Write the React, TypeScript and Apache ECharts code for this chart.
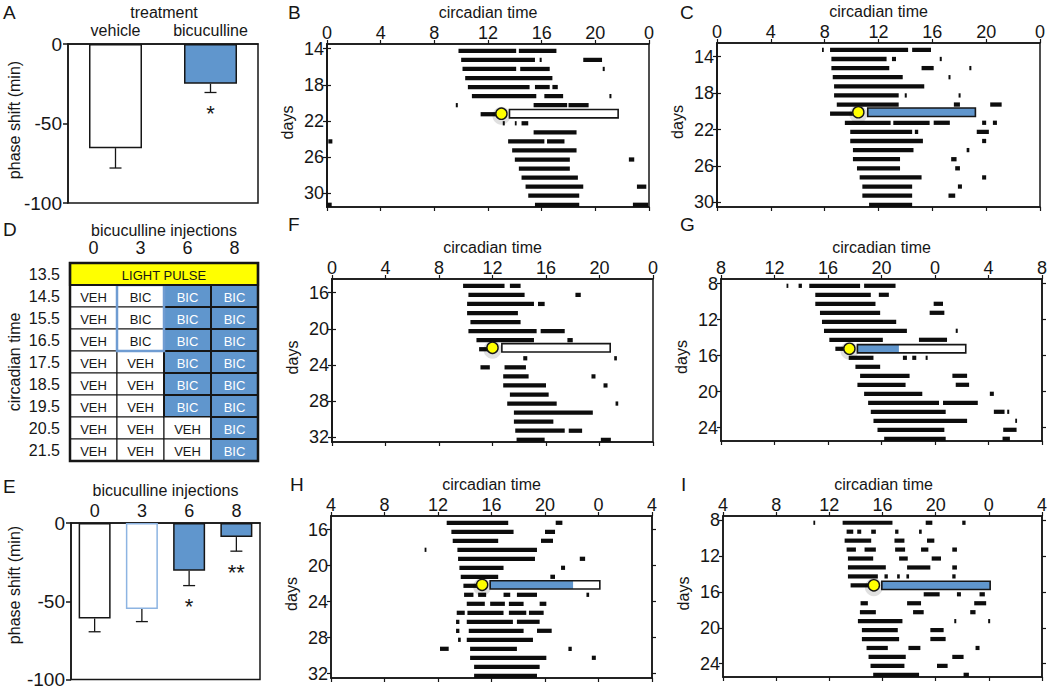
import React, { useEffect, useRef } from "react";
import * as echarts from "echarts";

const FONT = '"Liberation Sans", Arial, Helvetica, sans-serif';
const INK = "#161616";
const BLUE = "#6096CD";
const LIGHT_BLUE = "#8DB4E2";
const YELLOW = "#FFFF00";

// ---------- Panel A : phase shift by treatment ----------
const treatmentCats = ["vehicle", "bicuculline"];
const shiftA = [-65.5, -25];
const semA = [12.5, 5.5];
const sigA = ["", "*"];
const fillA = ["#ffffff", BLUE];
const edgeA = [INK, INK];

// ---------- Panel E : phase shift by number of injections ----------
const injectionCats = ["0", "3", "6", "8"];
const shiftE = [-61, -55, -30.5, -9];
const semE = [8.5, 8, 9.5, 9];
const sigE = ["", "", "*", "**"];
const fillE = ["#ffffff", "#ffffff", BLUE, BLUE];
const edgeE = [INK, LIGHT_BLUE, INK, INK];

// ---------- Panel D : injection table ----------
const tableCols = ["0", "3", "6", "8"];
const tableRowLabels = ["13.5", "14.5", "15.5", "16.5", "17.5", "18.5", "19.5", "20.5", "21.5"];
const pulseLabel = "LIGHT PULSE";
const inj0 = ["VEH", "VEH", "VEH", "VEH", "VEH", "VEH", "VEH", "VEH"];
const inj3 = ["BIC", "BIC", "BIC", "VEH", "VEH", "VEH", "VEH", "VEH"];
const inj6 = ["BIC", "BIC", "BIC", "BIC", "BIC", "BIC", "VEH", "VEH"];
const inj8 = ["BIC", "BIC", "BIC", "BIC", "BIC", "BIC", "BIC", "BIC"];
const tableColumns = [inj0, inj3, inj6, inj8];
const columnBicFilled = [false, false, true, true];

// ---------- Actograms: [day, onset CT, offset CT] ----------
type Seg = [number, number, number];
const actoB: Seg[] = [
  [14, 9.8, 14.1], [14, 14.3, 17.1],
  [15, 10.0, 15.5], [15, 15.85, 16.0], [15, 19.1, 20.5],
  [16, 10.1, 14.1], [16, 14.4, 16.6], [16, 20.55, 20.7],
  [17, 10.3, 16.8],
  [18, 10.5, 15.1], [18, 15.5, 16.6], [18, 16.8, 17.2],
  [19, 10.8, 15.6], [19, 16.2, 17.6], [19, 21.05, 21.2],
  [20, 9.6, 9.75], [20, 15.4, 17.9], [20, 18.0, 19.5],
  [21, 11.45, 12.9],
  [22, 13.1, 13.25], [22, 14.0, 14.1], [22, 14.5, 15.0],
  [23, 15.4, 18.6],
  [24, 0.1, 0.4], [24, 13.5, 16.2], [24, 16.4, 17.7],
  [25, 13.8, 18.6],
  [26, 14.0, 18.1], [26, 22.5, 22.9],
  [27, 14.3, 18.1],
  [28, 14.5, 18.7],
  [29, 14.8, 19.1], [29, 23.1, 23.8],
  [30, 15.0, 18.8],
  [31, 0.0, 0.35], [31, 15.5, 18.8], [31, 22.8, 23.95],
];
const actoC: Seg[] = [
  [13, 7.8, 7.9], [13, 8.4, 14.2], [13, 14.5, 15.9],
  [14, 8.5, 12.6], [14, 13.0, 13.3], [14, 16.55, 16.7],
  [15, 8.5, 12.8], [15, 15.2, 16.1], [15, 18.75, 18.9],
  [16, 8.6, 13.8], [16, 17.2, 17.35],
  [17, 8.7, 15.4],
  [18, 8.7, 13.5], [18, 13.95, 14.1], [18, 17.95, 18.1],
  [19, 8.9, 13.5], [19, 17.6, 18.05], [19, 20.3, 21.15],
  [20, 8.4, 10.1],
  [21, 9.5, 12.9], [21, 13.1, 15.8], [21, 16.1, 17.3], [21, 19.7, 20.0], [21, 20.5, 20.8],
  [22, 9.9, 14.5], [22, 14.7, 14.95], [22, 19.3, 20.2],
  [23, 9.9, 15.3], [23, 19.7, 20.0],
  [24, 10.1, 14.6], [24, 18.55, 18.75],
  [25, 10.1, 13.6], [25, 17.4, 17.8],
  [26, 10.4, 13.6], [26, 17.7, 18.05],
  [27, 10.6, 15.2], [27, 19.7, 20.0],
  [28, 10.8, 14.5], [28, 17.9, 18.2],
  [29, 10.8, 14.5], [29, 17.2, 17.7],
  [30, 11.3, 14.5],
];
const actoF: Seg[] = [
  [15, 9.8, 12.9], [15, 13.3, 14.1],
  [16, 10.2, 14.4], [16, 18.2, 18.6],
  [17, 10.1, 15.1], [17, 15.4, 15.9],
  [18, 10.1, 13.9],
  [19, 10.35, 14.1],
  [20, 10.2, 15.3], [20, 15.6, 17.4],
  [21, 10.8, 15.1], [21, 17.6, 18.0],
  [22, 11.0, 11.8],
  [23, 14.3, 14.6], [23, 21.1, 21.3],
  [24, 11.1, 11.8], [24, 12.9, 14.5],
  [25, 12.8, 14.7], [25, 19.4, 19.7],
  [26, 12.8, 16.0], [26, 20.3, 20.6],
  [27, 13.3, 16.2],
  [28, 13.1, 16.8], [28, 21.2, 21.4],
  [29, 13.6, 19.5],
  [30, 13.6, 16.55],
  [31, 13.7, 17.4], [31, 17.7, 18.7],
  [32, 13.8, 15.9], [32, 20.1, 20.85],
];
const actoG: Seg[] = [
  [8, 12.9, 13.0], [8, 13.8, 14.05], [8, 14.6, 18.4], [8, 18.7, 21.05],
  [9, 15.05, 19.2], [9, 19.8, 20.55],
  [10, 15.05, 19.55], [10, 23.9, 24.6],
  [11, 15.4, 19.9], [11, 23.6, 24.7],
  [12, 15.55, 21.1],
  [13, 15.7, 21.9], [13, 25.55, 25.7],
  [14, 16.1, 20.1], [14, 22.8, 24.9],
  [15, 16.55, 17.2],
  [16, 17.55, 19.4], [16, 21.6, 21.9], [16, 22.3, 22.6], [16, 23.3, 23.45],
  [17, 18.05, 19.9],
  [18, 18.4, 22.1], [18, 25.3, 26.4],
  [19, 18.2, 21.8], [19, 25.55, 26.55],
  [20, 18.7, 23.05], [20, 28.1, 28.4],
  [21, 19.0, 24.3], [21, 24.6, 27.2],
  [22, 19.2, 24.8], [22, 28.4, 29.2], [22, 29.4, 29.55],
  [23, 19.4, 26.4], [23, 30.0, 30.1],
  [24, 19.7, 24.7], [24, 29.1, 30.1],
  [25, 20.2, 24.8], [25, 29.05, 29.6],
];
const actoH: Seg[] = [
  [15, 12.65, 17.25], [15, 20.8, 21.3],
  [16, 13.0, 17.65], [16, 20.0, 20.75],
  [17, 13.1, 16.5], [17, 19.7, 20.6],
  [18, 11.0, 11.1], [18, 13.45, 19.4],
  [19, 13.5, 19.25], [19, 22.6, 23.0],
  [20, 13.6, 16.9], [20, 21.2, 21.5],
  [21, 13.7, 16.5], [21, 20.4, 20.75],
  [22, 13.9, 15.0],
  [23, 13.95, 14.65], [23, 15.0, 15.6], [23, 16.9, 17.4], [23, 17.9, 19.4], [23, 23.1, 23.3],
  [24, 14.15, 15.5], [24, 15.9, 17.0], [24, 17.3, 18.4], [24, 19.6, 20.1],
  [25, 13.4, 14.0], [25, 14.2, 16.9], [25, 17.3, 18.6], [25, 18.8, 19.9],
  [26, 13.35, 13.6], [26, 14.15, 17.6], [26, 17.9, 19.6],
  [27, 13.35, 13.6], [27, 14.3, 18.4], [27, 19.4, 20.5],
  [28, 13.5, 13.7], [28, 14.15, 19.1],
  [29, 12.15, 12.8], [29, 14.4, 17.9], [29, 21.75, 22.0],
  [30, 14.4, 20.1], [30, 23.5, 23.8],
  [31, 14.7, 19.6],
  [32, 14.7, 19.4],
];
const actoI: Seg[] = [
  [8, 10.8, 10.9], [8, 13.0, 16.75], [8, 19.25, 19.75], [8, 22.0, 22.25],
  [9, 13.3, 13.8], [9, 14.1, 14.4], [9, 15.15, 15.5], [9, 16.95, 17.2], [9, 18.75, 18.95],
  [10, 13.15, 15.15], [10, 16.9, 17.65], [10, 19.35, 19.9],
  [11, 13.3, 14.0], [11, 14.65, 15.5], [11, 16.95, 17.7], [11, 18.9, 19.45], [11, 21.25, 21.6],
  [12, 13.4, 15.3], [12, 17.25, 17.9], [12, 19.7, 20.4],
  [13, 13.4, 16.25], [13, 17.85, 19.6], [13, 21.25, 21.6],
  [14, 13.4, 15.65], [14, 16.15, 16.4], [14, 17.1, 17.3], [14, 17.8, 18.0], [14, 21.25, 21.5],
  [15, 13.6, 15.0],
  [16, 19.1, 20.3], [16, 21.6, 21.9], [16, 23.3, 23.7],
  [17, 14.35, 14.9], [17, 17.85, 18.9], [17, 22.9, 23.8],
  [18, 14.3, 15.5], [18, 18.3, 19.1], [18, 22.6, 23.0],
  [19, 14.15, 17.5], [19, 21.4, 21.55], [19, 23.95, 24.1],
  [20, 14.45, 17.15], [20, 19.6, 20.6],
  [21, 14.45, 17.25], [21, 19.6, 20.75],
  [22, 14.8, 16.4], [22, 17.95, 18.85], [22, 23.0, 23.3],
  [23, 14.95, 17.75], [23, 21.25, 22.1],
  [24, 15.1, 17.65], [24, 20.1, 20.9],
  [25, 15.3, 18.75], [25, 22.1, 22.5],
];

// light pulse: [pulse CT, day, treatment start CT, treatment end CT, bicuculline end CT]
const pulseB = [13.0, 21.2, 13.6, 21.7, 13.6];
const pulseC = [10.5, 20.1, 11.2, 19.2, 19.2];
const pulseF = [12.0, 22.1, 12.7, 20.8, 12.7];
const pulseG = [17.6, 15.25, 18.2, 26.3, 21.3];
const pulseH = [15.3, 22.15, 15.9, 24.1, 22.1];
const pulseI = [15.35, 15.25, 15.95, 24.1, 24.1];

// day tick labels
const dayTicksB = [14, 18, 22, 26, 30];
const dayTicksC = [14, 18, 22, 26, 30];
const dayTicksF = [16, 20, 24, 28, 32];
const dayTicksG = [8, 12, 16, 20, 24];
const dayTicksH = [16, 20, 24, 28, 32];
const dayTicksI = [8, 12, 16, 20, 24];

type Panel = {
  letter: string;
  grid: { left: number; top: number; width: number; height: number };
  ctMin: number;
  dayMin: number;
  dayMax: number;
  ticks: number[];
  segs: Seg[];
  pulse: number[];
  letterPos: [number, number];
};

const panels: Panel[] = [
  { letter: "B", grid: { left: 327, top: 44, width: 322, height: 163 }, ctMin: 0, dayMin: 13.5, dayMax: 31.5, ticks: dayTicksB, segs: actoB, pulse: pulseB, letterPos: [288, 12] },
  { letter: "C", grid: { left: 717, top: 43, width: 323, height: 164 }, ctMin: 0, dayMin: 12.5, dayMax: 30.5, ticks: dayTicksC, segs: actoC, pulse: pulseC, letterPos: [680, 12] },
  { letter: "F", grid: { left: 332, top: 279, width: 321, height: 163 }, ctMin: 0, dayMin: 14.5, dayMax: 32.5, ticks: dayTicksF, segs: actoF, pulse: pulseF, letterPos: [288, 224] },
  { letter: "G", grid: { left: 721, top: 279, width: 321, height: 162 }, ctMin: 8, dayMin: 7.5, dayMax: 25.5, ticks: dayTicksG, segs: actoG, pulse: pulseG, letterPos: [680, 224] },
  { letter: "H", grid: { left: 331, top: 516, width: 321, height: 162 }, ctMin: 4, dayMin: 14.5, dayMax: 32.5, ticks: dayTicksH, segs: actoH, pulse: pulseH, letterPos: [290, 484] },
  { letter: "I", grid: { left: 723, top: 516, width: 321, height: 161 }, ctMin: 4, dayMin: 7.5, dayMax: 25.5, ticks: dayTicksI, segs: actoI, pulse: pulseI, letterPos: [681, 484] },
];

const txt = (text: string, x: number, y: number, size: number, extra: any = {}) => ({
  type: "text",
  x,
  y,
  silent: true,
  ...extra,
  style: {
    text,
    fill: INK,
    font: `${size}px ${FONT}`,
    textAlign: extra.align || "center",
    textVerticalAlign: "middle",
  },
});

function buildOption() {
  const grid: any[] = [];
  const xAxis: any[] = [];
  const yAxis: any[] = [];
  const series: any[] = [];
  const graphic: any[] = [];

  const lineStyle = { color: INK, width: 1.5 };

  // ---------- A ----------
  const gA = { left: 68, top: 44, width: 190, height: 159 };
  grid.push({ ...gA, show: true, borderColor: INK, borderWidth: 1.5, backgroundColor: "transparent" });
  xAxis.push({
    type: "category", gridIndex: 0, position: "top", data: treatmentCats,
    axisLine: { show: true, lineStyle }, axisTick: { show: false },
    axisLabel: { interval: 0, fontSize: 16, color: INK, fontFamily: FONT, margin: 6 },
  });
  yAxis.push({
    type: "value", gridIndex: 0, min: -100, max: 0, interval: 50,
    splitLine: { show: false }, axisLine: { show: true, lineStyle },
    axisTick: { show: true, length: 5, lineStyle },
    axisLabel: { fontSize: 19, color: INK, fontFamily: FONT, margin: 6 },
  });

  // ---------- D ----------
  const gD = { left: 70, top: 263, width: 188, height: 198 };
  grid.push({ ...gD, show: false });
  xAxis.push({
    type: "category", gridIndex: 1, position: "top", data: tableCols,
    axisLine: { show: false }, axisTick: { show: false },
    axisLabel: { interval: 0, fontSize: 18, color: INK, fontFamily: FONT, margin: 6 },
  });
  yAxis.push({
    type: "category", gridIndex: 1, inverse: true, data: tableRowLabels,
    axisLine: { show: false }, axisTick: { show: false },
    axisLabel: { interval: 0, fontSize: 16, color: INK, fontFamily: FONT, margin: 10 },
  });

  // ---------- E ----------
  const gE = { left: 71, top: 523, width: 189, height: 157 };
  grid.push({ ...gE, show: true, borderColor: INK, borderWidth: 1.5, backgroundColor: "transparent" });
  xAxis.push({
    type: "category", gridIndex: 2, position: "top", data: injectionCats,
    axisLine: { show: true, lineStyle }, axisTick: { show: false },
    axisLabel: { interval: 0, fontSize: 18, color: INK, fontFamily: FONT, margin: 3 },
  });
  yAxis.push({
    type: "value", gridIndex: 2, min: -100, max: 0, interval: 50,
    splitLine: { show: false }, axisLine: { show: true, lineStyle },
    axisTick: { show: true, length: 5, lineStyle },
    axisLabel: { fontSize: 19, color: INK, fontFamily: FONT, margin: 6 },
  });

  // bar + error series for A and E
  const barPanel = (gi: number, vals: number[], sem: number[], sig: string[], fills: string[], edges: string[], barWidth: number) => {
    series.push({
      type: "bar", xAxisIndex: gi, yAxisIndex: gi, barWidth, silent: true,
      data: vals.map((v, i) => ({
        value: v,
        itemStyle: { color: fills[i], borderColor: edges[i], borderWidth: 1.5 },
      })),
    });
    series.push({
      type: "custom", xAxisIndex: gi, yAxisIndex: gi, silent: true, z: 5,
      data: vals.map((v, i) => [i, v, v - sem[i]]),
      encode: { x: 0, y: [1, 2] },
      renderItem: (params: any, api: any) => {
        const i = api.value(0);
        const a = api.coord([i, api.value(1)]);
        const b = api.coord([i, api.value(2)]);
        const s = sig[params.dataIndex];
        const children: any[] = [
          { type: "line", shape: { x1: a[0], y1: a[1], x2: b[0], y2: b[1] }, style: { stroke: INK, lineWidth: 1.3 } },
          { type: "line", shape: { x1: b[0] - 6, y1: b[1], x2: b[0] + 6, y2: b[1] }, style: { stroke: INK, lineWidth: 1.3 } },
        ];
        if (s) {
          children.push({
            type: "text", x: b[0], y: b[1] + 10,
            style: { text: s, fill: INK, font: `22px ${FONT}`, textAlign: "center", textVerticalAlign: "top" },
          });
        }
        return { type: "group", children };
      },
    });
  };
  barPanel(0, shiftA, semA, sigA, fillA, edgeA, 53);
  barPanel(2, shiftE, semE, sigE, fillE, edgeE, 32);

  // table cells
  const cellData: number[][] = [];
  tableColumns.forEach((col, c) => col.forEach((_, r) => cellData.push([c, r + 1])));
  series.push({
    type: "custom", xAxisIndex: 1, yAxisIndex: 1, silent: true,
    data: cellData,
    encode: { x: 0, y: 1 },
    renderItem: (params: any, api: any) => {
      const c = api.value(0);
      const r = api.value(1);
      const p = api.coord([c, r]);
      const sz = api.size([1, 1]);
      const label = tableColumns[c][r - 1];
      const filled = label === "BIC" && columnBicFilled[c];
      return {
        type: "group",
        children: [
          {
            type: "rect",
            shape: { x: p[0] - sz[0] / 2, y: p[1] - sz[1] / 2, width: sz[0], height: sz[1] },
            style: { fill: filled ? BLUE : "#fff", stroke: INK, lineWidth: filled ? 2 : 1.1 },
          },
          {
            type: "text", x: p[0], y: p[1] + 1,
            style: { text: label, fill: filled ? "#fff" : INK, font: `13px ${FONT}`, textAlign: "center", textVerticalAlign: "middle" },
          },
        ],
      };
    },
  });
  // light pulse row + outlines
  series.push({
    type: "custom", xAxisIndex: 1, yAxisIndex: 1, silent: true, z: 6,
    data: [[0, 0]],
    encode: { x: 0, y: 1 },
    renderItem: (params: any, api: any) => {
      const sz = api.size([1, 1]);
      const first = api.coord([0, 0]);
      const last = api.coord([tableCols.length - 1, tableRowLabels.length - 1]);
      const x0 = first[0] - sz[0] / 2;
      const x1 = last[0] + sz[0] / 2;
      const y0 = first[1] - sz[1] / 2;
      const y1 = last[1] + sz[1] / 2;
      // outline around the un-filled BIC cells of column "3"
      const bicRows = inj3.map((v, i) => (v === "BIC" ? i + 1 : -1)).filter((v) => v >= 0);
      const oTop = api.coord([1, bicRows[0]]);
      const oBot = api.coord([1, bicRows[bicRows.length - 1]]);
      return {
        type: "group",
        children: [
          {
            type: "rect",
            shape: { x: oTop[0] - sz[0] / 2, y: oTop[1] - sz[1] / 2, width: sz[0], height: oBot[1] - oTop[1] + sz[1] },
            style: { fill: "none", stroke: "#6F9CD2", lineWidth: 2.5 },
          },
          {
            type: "rect",
            shape: { x: x0, y: y0, width: x1 - x0, height: sz[1] },
            style: { fill: YELLOW, stroke: INK, lineWidth: 2.2 },
          },
          {
            type: "text", x: (x0 + x1) / 2, y: y0 + sz[1] / 2 + 1,
            style: { text: pulseLabel, fill: INK, font: `13px ${FONT}`, textAlign: "center", textVerticalAlign: "middle" },
          },
          {
            type: "rect",
            shape: { x: x0, y: y0, width: x1 - x0, height: y1 - y0 },
            style: { fill: "none", stroke: INK, lineWidth: 2.5 },
          },
        ],
      };
    },
  });

  // ---------- actograms ----------
  panels.forEach((p, k) => {
    const gi = 3 + k;
    grid.push({ ...p.grid, show: true, borderColor: INK, borderWidth: 1.5, backgroundColor: "transparent" });
    const xBase = {
      type: "value", gridIndex: gi, min: p.ctMin, max: p.ctMin + 24, interval: 4,
      splitLine: { show: false }, axisLine: { show: true, lineStyle },
      axisTick: { show: true, length: 4, lineStyle: { color: INK, width: 1.2 } },
    };
    xAxis.push({
      ...xBase, position: "top",
      axisLabel: {
        show: true, fontSize: 18, color: INK, fontFamily: FONT, margin: 2,
        showMinLabel: true, showMaxLabel: true,
        formatter: (v: number) => String(((Math.round(v) % 24) + 24) % 24),
      },
    });
    xAxis.push({ ...xBase, position: "bottom", axisLabel: { show: false } });
    const yBase = {
      type: "value", gridIndex: gi, min: p.dayMin, max: p.dayMax, inverse: true,
      splitLine: { show: false }, axisLine: { show: true, lineStyle },
      axisTick: { show: true, length: 4, customValues: p.ticks, lineStyle: { color: INK, width: 1.2 } },
    };
    yAxis.push({
      ...yBase, position: "left",
      axisLabel: { show: true, customValues: p.ticks, fontSize: 18, color: INK, fontFamily: FONT, margin: 3, formatter: (v: number) => String(v) },
    });
    yAxis.push({ ...yBase, position: "right", axisLabel: { show: false } });
    const xi = 3 + k * 2;
    series.push({
      type: "custom", xAxisIndex: xi, yAxisIndex: xi, silent: true,
      data: p.segs.map(([d, s, e]) => [s, e, d]),
      encode: { x: [0, 1], y: 2 },
      renderItem: (params: any, api: any) => {
        const d = api.value(2);
        const a = api.coord([api.value(0), d + 0.49]);
        const b = api.coord([api.value(1), d + 0.02]);
        const w = Math.max(b[0] - a[0], 1.8);
        return { type: "rect", shape: { x: a[0], y: b[1], width: w, height: a[1] - b[1] }, style: { fill: "#0d0d0d" } };
      },
    });
    series.push({
      type: "custom", xAxisIndex: xi, yAxisIndex: xi, silent: true, z: 6,
      data: [p.pulse],
      encode: { x: [0, 2, 3, 4], y: 1 },
      renderItem: (params: any, api: any) => {
        const ct = api.value(0);
        const day = api.value(1);
        const s = api.value(2);
        const e = api.value(3);
        const bEnd = api.value(4);
        const a = api.coord([s, day - 0.46]);
        const z = api.coord([e, day + 0.46]);
        const bb = api.coord([bEnd, day]);
        const c = api.coord([ct, day]);
        const children: any[] = [
          {
            type: "circle", shape: { cx: c[0], cy: c[1] + 2, r: 9 },
            style: { fill: "rgba(0,0,0,0.12)" },
          },
          { type: "rect", shape: { x: a[0], y: a[1], width: z[0] - a[0], height: z[1] - a[1] }, style: { fill: "#fff" } },
        ];
        if (bEnd > s) {
          children.push({ type: "rect", shape: { x: a[0], y: a[1], width: bb[0] - a[0], height: z[1] - a[1] }, style: { fill: BLUE } });
        }
        children.push({ type: "rect", shape: { x: a[0], y: a[1], width: z[0] - a[0], height: z[1] - a[1] }, style: { fill: "none", stroke: INK, lineWidth: 1.6 } });
        children.push({
          type: "circle", shape: { cx: c[0], cy: c[1], r: 5.6 },
          style: { fill: YELLOW, stroke: INK, lineWidth: 1.4 },
        });
        return { type: "group", children };
      },
    });

    const g = p.grid;
    graphic.push(txt(p.letter, p.letterPos[0], p.letterPos[1], 19, { align: "left" }));
    graphic.push(txt("circadian time", g.left + g.width / 2, g.top - 32, 16));
    graphic.push(txt("days", g.left - 40, g.top + g.height / 2 - 3, 16, { rotation: Math.PI / 2 }));
  });

  // ---------- left column texts ----------
  graphic.push(txt("A", 3, 12, 19, { align: "left" }));
  graphic.push(txt("treatment", gA.left + gA.width / 2 + 1, 12, 16));
  graphic.push(txt("phase shift (min)", 14, 120, 16, { rotation: Math.PI / 2 }));
  graphic.push(txt("D", 3, 229, 19, { align: "left" }));
  graphic.push(txt("bicuculline injections", gD.left + gD.width / 2 - 0, 230, 16));
  graphic.push(txt("circadian time", 14, 362, 16, { rotation: Math.PI / 2 }));
  graphic.push(txt("E", 3, 486, 19, { align: "left" }));
  graphic.push(txt("bicuculline injections", gE.left + gE.width / 2 - 0, 490, 16));
  graphic.push(txt("phase shift (min)", 14, 585, 16, { rotation: Math.PI / 2 }));

  return {
    animation: false,
    backgroundColor: "#ffffff",
    textStyle: { fontFamily: FONT },
    grid,
    xAxis,
    yAxis,
    series,
    graphic: { elements: graphic },
  };
}

export default function App() {
  const ref = useRef<HTMLDivElement>(null);
  useEffect(() => {
    document.body.style.margin = "0";
    if (!ref.current) return;
    const chart = echarts.init(ref.current, undefined, { renderer: "svg" });
    chart.setOption(buildOption() as any);
    return () => chart.dispose();
  }, []);
  return <div ref={ref} style={{ width: 1050, height: 689, background: "#fff" }} />;
}
